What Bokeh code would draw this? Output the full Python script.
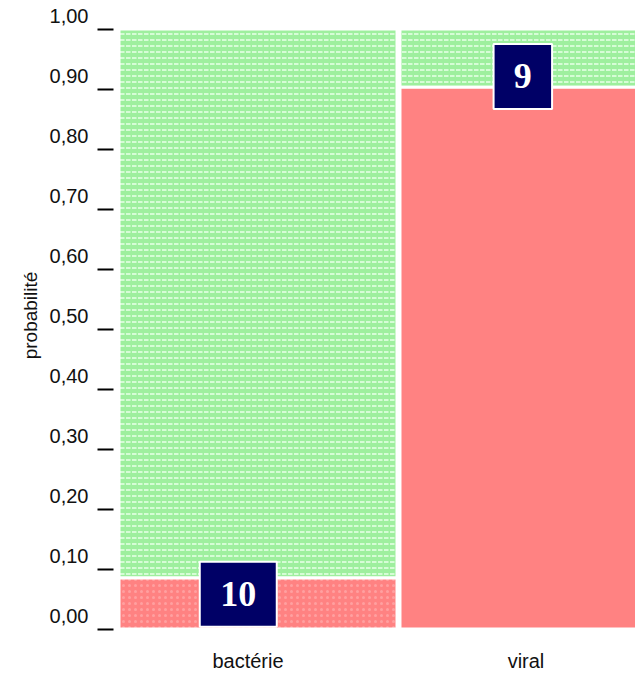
from bokeh.plotting import figure
from bokeh.models import Range1d, FixedTicker, ColumnDataSource
from bokeh.core.properties import value
from bokeh.embed import file_html
from bokeh.resources import INLINE

# ---- data ----
categories = ["bactérie", "viral"]
counts = [10, 9]                 # column widths (count labels)
red_prop = [0.085, 0.903]        # lower (red) share per column
count_labels = ["10", "9"]
y_ticks = [0.0, 0.1, 0.2, 0.3, 0.4, 0.5, 0.6, 0.7, 0.8, 0.9, 1.0]
y_tick_labels = ["0,00", "0,10", "0,20", "0,30", "0,40", "0,50",
                 "0,60", "0,70", "0,80", "0,90", "1,00"]

# ---- layout ----
gap = 0.108
starts = []
s = 0.0
for c in counts:
    starts.append(s)
    s += c + gap

p = figure(width=635, height=676, output_backend="svg", toolbar_location=None,
           x_range=Range1d(-0.198, 18.58), y_range=Range1d(-0.0025, 1.0475),
           min_border_left=113, min_border_right=0, min_border_top=0,
           min_border_bottom=46)
p.outline_line_color = None
p.grid.visible = False
p.background_fill_color = "white"
p.border_fill_color = "white"

left = starts
right = [a + c for a, c in zip(starts, counts)]

red_src = ColumnDataSource(dict(left=left, right=right, bottom=[0] * len(counts), top=red_prop,
                                hatch=[".", " "]))
green_src = ColumnDataSource(dict(left=left, right=right, bottom=red_prop, top=[1] * len(counts)))

p.quad(left="left", right="right", bottom="bottom", top="top", source=green_src,
       fill_color="#9eef9e", line_color="white", line_width=3,
       hatch_pattern='"', hatch_color="#d6fcd6", hatch_scale=6, hatch_weight=2)
p.quad(left="left", right="right", bottom="bottom", top="top", source=red_src,
       fill_color="#ff8282", line_color="white", line_width=3,
       hatch_pattern="hatch", hatch_color="#ffa0a0", hatch_scale=6, hatch_weight=2)

# count boxes
label_frac = [0.429, 0.491]
label_dy = [-0.027, 0.018]
lx = [a + f * c for a, f, c in zip(starts, label_frac, counts)]
ly = [r + d for r, d in zip(red_prop, label_dy)]
bw = [40 + 18.5 * len(t) for t in count_labels]
box_src = ColumnDataSource(dict(x=lx, y=ly, w=bw, text=count_labels))
p.rect(x="x", y="y", width="w", height=65, width_units="screen", height_units="screen",
       source=box_src, fill_color="#000066", line_color="white", line_width=2)
p.text(x="x", y="y", text="text", source=box_src, text_align="center",
       text_baseline="middle", text_color="white", text_font=value("Liberation Serif"),
       text_font_style="bold", text_font_size="36px")

# y axis (label drawn on the line above its tick mark)
ya = p.yaxis[0]
ya.ticker = FixedTicker(ticks=y_ticks)
ya.major_label_overrides = {t: l + "\n " for t, l in zip(y_ticks, y_tick_labels)}
ya.axis_line_color = None
ya.major_tick_in = 0
ya.major_tick_out = 16
ya.major_tick_line_width = 2
ya.major_tick_line_color = "black"
ya.minor_tick_line_color = None
ya.major_label_standoff = 9
ya.major_label_text_font = "Liberation Sans"
ya.major_label_text_font_size = "20px"
ya.major_label_text_color = "#111111"
ya.axis_label = "probabilité"
ya.axis_label_text_font = "Liberation Sans"
ya.axis_label_text_font_size = "19px"
ya.axis_label_text_font_style = "normal"
ya.axis_label_text_color = "#111111"
ya.axis_label_standoff = 6

# x axis
xa = p.xaxis[0]
x_ticks = [4.64 + 10 * i for i in range(len(categories))]
xa.ticker = FixedTicker(ticks=x_ticks)
xa.major_label_overrides = {t: c for t, c in zip(x_ticks, categories)}
xa.axis_line_color = None
xa.major_tick_line_color = None
xa.minor_tick_line_color = None
xa.major_label_standoff = 13
xa.major_label_text_font = "Liberation Sans"
xa.major_label_text_font_size = "20px"
xa.major_label_text_color = "#111111"

open("out.html", "w").write(file_html(p, INLINE))
